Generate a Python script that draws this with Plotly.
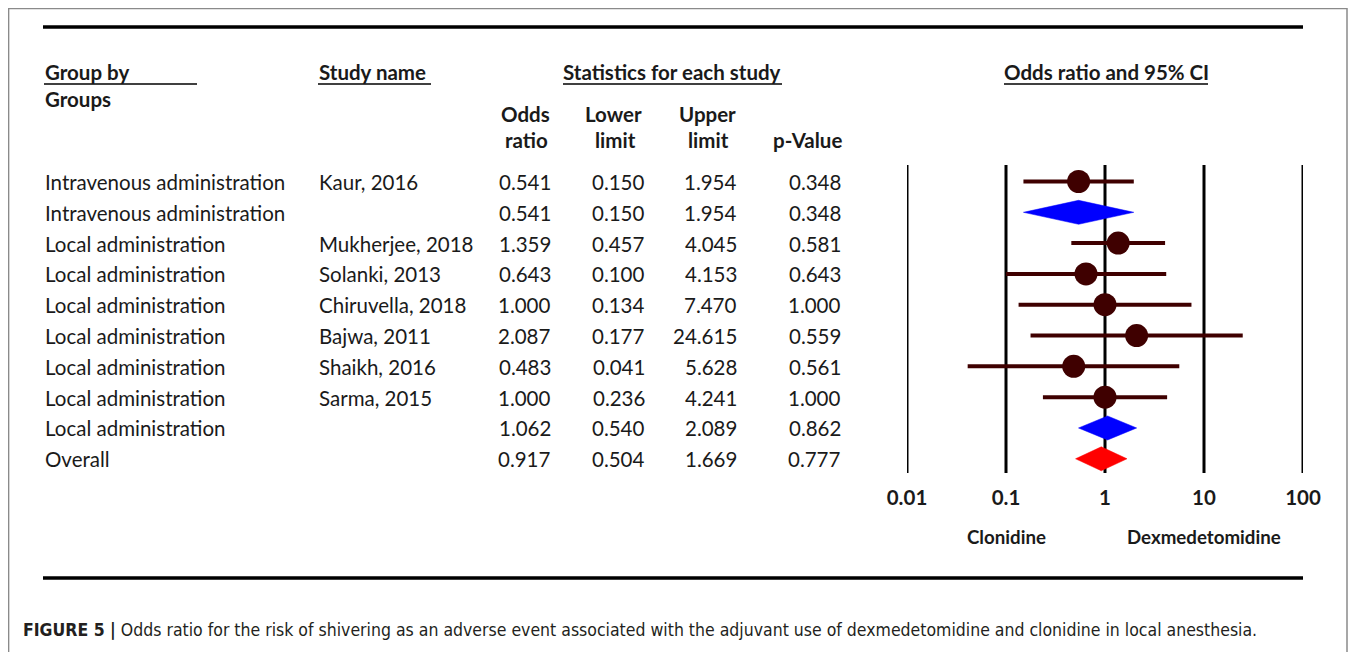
import plotly.graph_objects as go

# ---------------- data ----------------
groups = ["Intravenous administration", "Intravenous administration",
          "Local administration", "Local administration", "Local administration",
          "Local administration", "Local administration", "Local administration",
          "Local administration", "Overall"]
studies = ["Kaur, 2016", "", "Mukherjee, 2018", "Solanki, 2013", "Chiruvella, 2018",
           "Bajwa, 2011", "Shaikh, 2016", "Sarma, 2015", "", ""]
odds_ratio = [0.541, 0.541, 1.359, 0.643, 1.000, 2.087, 0.483, 1.000, 1.062, 0.917]
lower_limit = [0.150, 0.150, 0.457, 0.100, 0.134, 0.177, 0.041, 0.236, 0.540, 0.504]
upper_limit = [1.954, 1.954, 4.045, 4.153, 7.470, 24.615, 5.628, 4.241, 2.089, 1.669]
p_value = [0.348, 0.348, 0.581, 0.643, 1.000, 0.559, 0.561, 1.000, 0.862, 0.777]
row_kind = ["study", "subgroup", "study", "study", "study", "study", "study", "study",
            "subgroup", "overall"]
tick_vals = [0.01, 0.1, 1, 10, 100]
tick_text = ["0.01", "0.1", "1", "10", "100"]

# ---------------- geometry helpers (page pixel -> figure coords) ----------------
OFF = 8                      # default body margin of the html page
W, H = 1357 - OFF, 652 - OFF
ROW0, ROWH = 181.5, 30.81


def v(p):  # page pixel y -> row units
    return (p - ROW0) / ROWH


def px(x):  # page pixel x -> paper
    return (x - OFF) / W


def py(p):  # page pixel y -> paper
    return 1 - (p - OFF) / H


AX_BOTTOM = 483
FONT = "Lato, Carlito, 'Open Sans', sans-serif"
TXT = "#1a1a1a"
FS = 20.5
MAROON = "#3f0000"

fig = go.Figure()

rows = list(range(len(groups)))

# CI lines for studies
ci_x, ci_y = [], []
for i in rows:
    if row_kind[i] == "study":
        ci_x += [lower_limit[i], upper_limit[i], None]
        ci_y += [i, i, None]
fig.add_trace(go.Scatter(x=ci_x, y=ci_y, mode="lines",
                         line=dict(color=MAROON, width=4), hoverinfo="skip",
                         showlegend=False))

# study point estimates
st = [i for i in rows if row_kind[i] == "study"]
fig.add_trace(go.Scatter(x=[odds_ratio[i] for i in st], y=st, mode="markers",
                         marker=dict(symbol="circle", size=23, color=MAROON),
                         showlegend=False))

# diamonds
HALF = 12 / ROWH
for i in rows:
    if row_kind[i] in ("subgroup", "overall"):
        col = "#0000ff" if row_kind[i] == "subgroup" else "#ff0000"
        fig.add_trace(go.Scatter(
            x=[lower_limit[i], odds_ratio[i], upper_limit[i], odds_ratio[i], lower_limit[i]],
            y=[i, i - HALF, i, i + HALF, i],
            mode="lines", fill="toself", fillcolor=col,
            line=dict(color=col, width=0.5), showlegend=False, hoverinfo="skip"))

# vertical reference lines
for t in tick_vals:
    fig.add_shape(type="line", xref="x", yref="y", x0=t, x1=t, y0=v(165), y1=v(473),
                  line=dict(color="black", width=3), layer="below")

# frame
fig.add_shape(type="rect", xref="paper", yref="paper", x0=px(8.6), x1=px(1347),
              y0=py(690), y1=py(8.6), line=dict(color="#8a8a8a", width=1.5))
# thick horizontal rules
for yy in (27, 578):
    fig.add_shape(type="line", xref="paper", yref="paper", x0=px(43), x1=px(1303),
                  y0=py(yy), y1=py(yy), line=dict(color="black", width=3.5))
# header underlines
for x0, x1 in ((44, 197), (318, 431), (563, 782), (1004, 1208)):
    fig.add_shape(type="line", xref="paper", yref="paper", x0=px(x0), x1=px(x1),
                  y0=py(84), y1=py(84), line=dict(color="black", width=1.5))

ann = []


def text(x, y, s, anchor="left", bold=False, size=FS, color=TXT, family=FONT):
    ann.append(dict(x=px(x), y=py(y), xref="paper", yref="paper", text=s,
                    showarrow=False, xanchor=anchor, yanchor="middle",
                    font=dict(family=family, size=size, color=color,
                              weight="bold" if bold else "normal")))


# headers
text(43, 72, "Group by", bold=True)
text(43, 99, "Groups", bold=True)
text(317, 72, "Study name", bold=True)
text(672, 72, "Statistics for each study", anchor="center", bold=True)
text(1106, 72, "Odds ratio and 95% CI", anchor="center", bold=True)
text(525, 114, "Odds", anchor="center", bold=True)
text(526, 140, "ratio", anchor="center", bold=True)
text(613, 114, "Lower", anchor="center", bold=True)
text(615, 140, "limit", anchor="center", bold=True)
text(707, 114, "Upper", anchor="center", bold=True)
text(709, 140, "limit", anchor="center", bold=True)
text(807, 140, "p-Value", anchor="center", bold=True)

# table rows
for i in rows:
    yy = ROW0 + 0.5 + i * ROWH
    text(42.5, yy, groups[i])
    if studies[i]:
        text(317, yy, studies[i])
    text(553, yy, f"{odds_ratio[i]:.3f}", anchor="right")
    text(647, yy, f"{lower_limit[i]:.3f}", anchor="right")
    text(739, yy, f"{upper_limit[i]:.3f}", anchor="right")
    text(843, yy, f"{p_value[i]:.3f}", anchor="right")

text(1006, 537, "Clonidine", anchor="center", bold=True, size=18.7)
text(1204, 537, "Dexmedetomidine", anchor="center", bold=True, size=18.7)

# caption
text(21, 630, "<b>FIGURE 5 |</b> Odds ratio for the risk of shivering as an adverse event "
     "associated with the adjuvant use of dexmedetomidine and clonidine in local anesthesia.",
     size=17.5, color="#231f20",
     family="'Liberation Sans Narrow', 'DejaVu Sans Condensed', Arial, sans-serif")

fig.update_layout(
    width=W, height=H, margin=dict(l=0, r=0, t=0, b=0, pad=0, autoexpand=False),
    paper_bgcolor="white", plot_bgcolor="white",
    annotations=ann,
    xaxis=dict(type="log", range=[-2, 2], domain=[px(907), px(1303)],
               tickvals=tick_vals, ticktext=tick_text, showgrid=False, zeroline=False,
               showline=False, ticks="", automargin=False,
               tickfont=dict(family=FONT, size=20.5, color=TXT, weight="bold")),
    yaxis=dict(range=[v(AX_BOTTOM), v(OFF)], domain=[py(AX_BOTTOM), 1], visible=False,
               automargin=False),
    font=dict(family=FONT),
)

fig.write_html("out.html")
